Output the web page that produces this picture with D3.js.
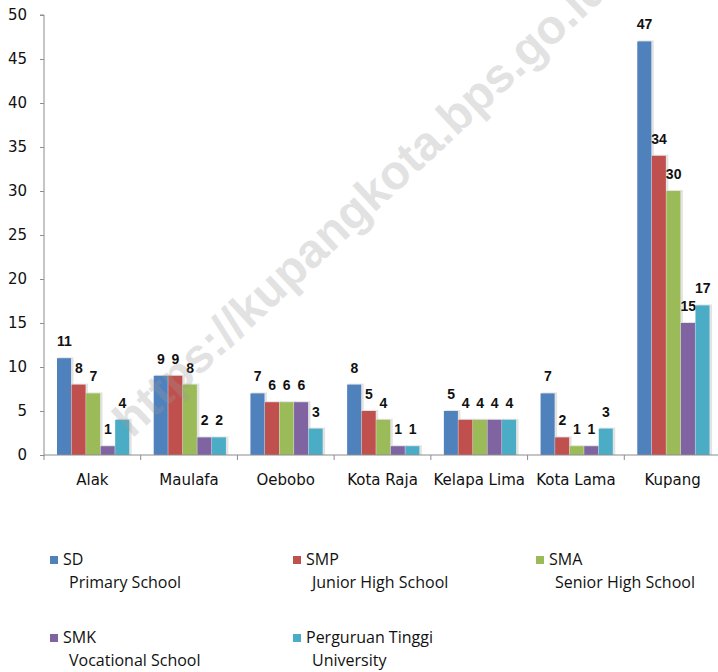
<!DOCTYPE html>
<html>
<head>
<meta charset="utf-8">
<script src="https://cdn.jsdelivr.net/npm/d3@7"></script>
<style>
  body { margin: 0; background: #fff; }
  .tick text { font-family: "DejaVu Sans", sans-serif; font-size: 15px; fill: #111; }
  .legend text { font-family: "Open Sans", sans-serif; font-size: 16px; fill: #111; }
</style>
</head>
<body>
<div class="chart"></div>
<script>
'use strict'

const categories = ['Alak', 'Maulafa', 'Oebobo', 'Kota Raja', 'Kelapa Lima', 'Kota Lama', 'Kupang']
const seriesNames = ['SD', 'SMP', 'SMA', 'SMK', 'Perguruan Tinggi']
const seriesSub = ['Primary School', 'Junior High School', 'Senior High School', 'Vocational School', 'University']
const colors = ['#4f81bd', '#c0504d', '#9bbb59', '#8064a2', '#4bacc6']
const sd = [11, 9, 7, 8, 5, 7, 47]
const smp = [8, 9, 6, 5, 4, 2, 34]
const sma = [7, 8, 6, 4, 4, 1, 30]
const smk = [1, 2, 6, 1, 4, 1, 15]
const pt = [4, 2, 3, 1, 4, 3, 17]
const yTicks = [0, 5, 10, 15, 20, 25, 30, 35, 40, 45, 50]

const values = [sd, smp, sma, smk, pt]
const width = 718
const height = 672

const svg = d3.select('.chart').append('svg')
    .attr('width', width)
    .attr('height', height)

const x0 = d3.scaleBand()
    .domain(categories)
    .range([44, 721])
    .padding(0)

const x1 = d3.scaleBand()
    .domain(seriesNames)
    .range([13, x0.bandwidth() - 11])

const y = d3.scaleLinear()
    .domain([0, 50])
    .range([455, 15])

// y axis
const yAxis = svg.append('g')
    .attr('transform', 'translate(44,0)')
    .call(d3.axisLeft(y).tickValues(yTicks).tickSize(4).tickPadding(13))
yAxis.selectAll('line, path').attr('stroke', '#8c8c8c')
yAxis.select('.domain').attr('d', 'M-4,' + y(50) + 'H0V' + y(0))

// bars
const rows = []
categories.forEach(function(c, i) {
  seriesNames.forEach(function(s, j) {
    rows.push({ cat: c, ser: s, idx: j, v: values[j][i] })
  })
})

const bars = svg.append('g').selectAll('g')
    .data(rows)
  .enter().append('g')
    .attr('transform', d => 'translate(' + (x0(d.cat) + x1(d.ser)) + ',0)')

// soft shadow like the office chart
bars.append('rect')
    .attr('x', 1)
    .attr('y', d => y(d.v) - 1)
    .attr('width', x1.bandwidth() + 1)
    .attr('height', d => y(0) - y(d.v) + 1)
    .attr('fill', '#d0d0d0')
    .attr('opacity', 0.6)

bars.append('rect')
    .attr('y', d => y(d.v))
    .attr('width', x1.bandwidth() - 0.5)
    .attr('height', d => y(0) - y(d.v))
    .attr('fill', d => colors[d.idx])

bars.append('text')
    .attr('x', x1.bandwidth() / 2)
    .attr('y', d => y(d.v) - 12)
    .attr('text-anchor', 'middle')
    .style('font-family', '"Liberation Sans", Arial, sans-serif')
    .style('font-weight', 'bold')
    .style('font-size', '14px')
    .attr('fill', '#111')
    .text(d => d.v)

// x axis
const xAxis = svg.append('g')
    .attr('transform', 'translate(0,' + y(0) + ')')
    .call(d3.axisBottom(x0).tickSize(0).tickPadding(19).tickSizeOuter(0))
xAxis.select('.domain').attr('stroke', '#8c8c8c').attr('d', 'M44,0H718')
xAxis.selectAll('.bound')
    .data(d3.range(categories.length + 1))
  .enter().append('line')
    .attr('class', 'bound')
    .attr('x1', i => 44 + i * x0.bandwidth())
    .attr('x2', i => 44 + i * x0.bandwidth())
    .attr('y1', 0)
    .attr('y2', 5)
    .attr('stroke', '#8c8c8c')

// watermark
svg.append('text')
    .attr('transform', 'translate(132,439) rotate(-43)')
    .style('font-family', '"Liberation Sans", Arial, sans-serif')
    .style('font-weight', 'bold')
    .style('font-size', '48px')
    .attr('fill', '#9a9a9a')
    .attr('opacity', 0.28)
    .text('https://kupangkota.bps.go.id')

// legend
const legend = svg.append('g').attr('class', 'legend')
    .selectAll('g')
    .data(seriesNames)
  .enter().append('g')
    .attr('transform', (d, i) => 'translate(' + (50 + (i % 3) * 243) + ',' + (560 + Math.floor(i / 3) * 78) + ')')

legend.append('rect')
    .attr('x', 0)
    .attr('y', -4)
    .attr('width', 8)
    .attr('height', 8)
    .attr('fill', (d, i) => colors[i])

legend.append('text')
    .attr('x', 13)
    .attr('y', 5)
    .text(d => d)

legend.append('text')
    .attr('x', 19)
    .attr('y', 28)
    .text((d, i) => seriesSub[i])
</script>
</body>
</html>
